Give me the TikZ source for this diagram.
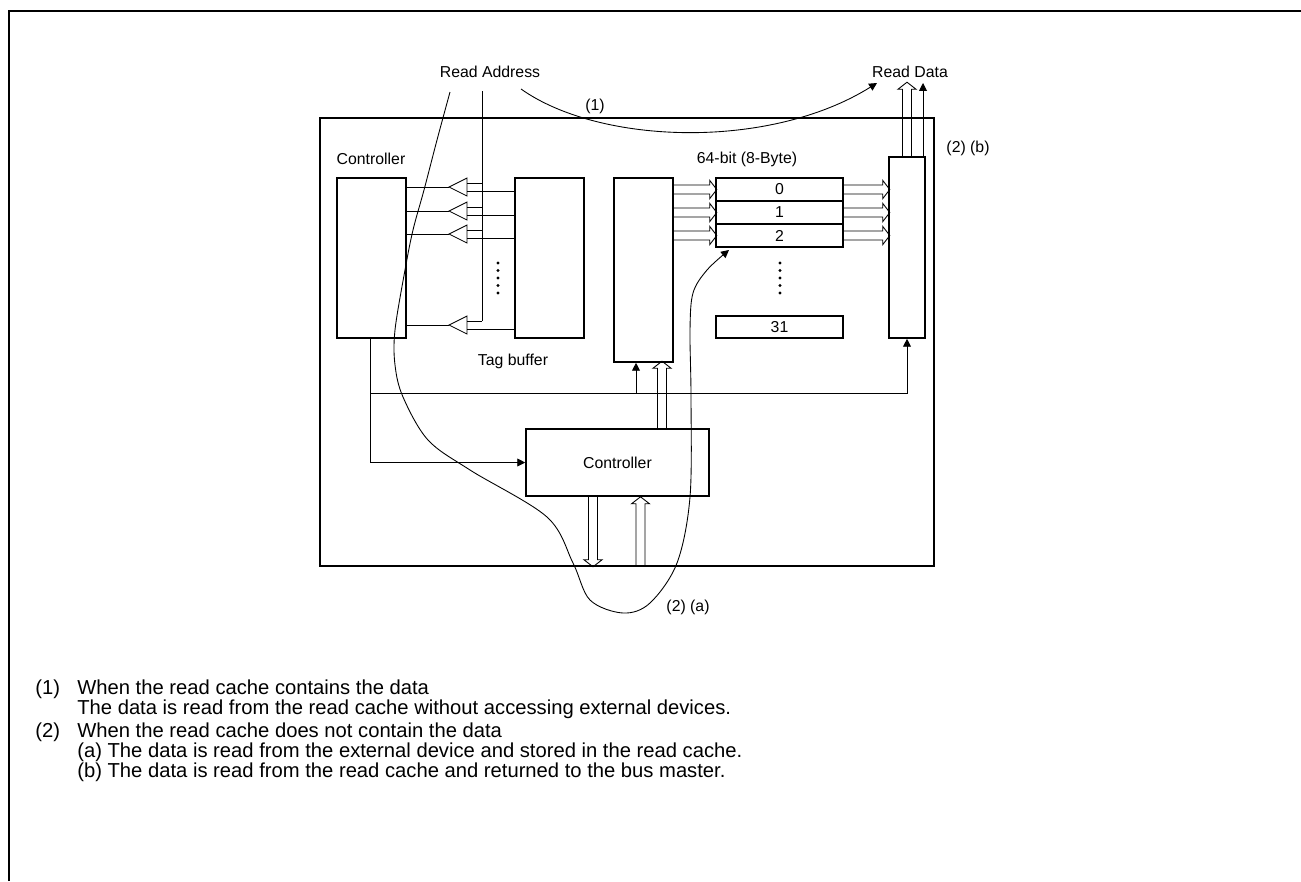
\documentclass[tikz,border=0pt]{standalone}
\usepackage{fontspec}
\setmainfont{Liberation Sans}
\usetikzlibrary{arrows.meta,calc}

\begin{document}
\begin{tikzpicture}[x=0.2mm, y=-0.2mm, font=\fontsize{9}{11}\selectfont,
  >={Triangle[length=4.5pt,width=4.5pt]},
  wire/.style={line width=0.5pt},
  blk/.style 2 args={draw, line width=0.9pt, inner sep=0pt, minimum width=#1, minimum height=#2},
  note/.style={font=\fontsize{11.5}{13}\selectfont, anchor=base west, inner sep=0pt},
  pics/fat/.style={code={\draw[wire] (0,-4.5) -- (#1-7,-4.5) -- (#1-7,-9) -- (#1,0) -- (#1-7,9) -- (#1-7,4.5) -- (0,4.5);}}]
  \useasboundingbox (0,0) rectangle (1301,881);
  \draw[line width=1.6pt] (9,881) -- (9,11) -- (1301,11);
  \node[blk={122.8mm}{89.6mm}] (cache) at (627,342) {};
  \node (ra) at (490,72) {Read Address};
  \node (rd) at (910,72) {Read Data};
  \node (lctl) at (371,159) {Controller};
  \node[blk={13.8mm}{32mm}] (ctl) at (371.5,258) {};
  \node[blk={13.8mm}{32mm}] (tag) at (549.5,258) {};
  \node (tagl) at (513,361) {Tag buffer};
  \node[blk={11.8mm}{36.8mm}] (mux) at (643.5,270) {};
  \node (wd) at (747,159) {64-bit (8-Byte)};
  \foreach \n/\y in {0/189.5,1/212.5,2/235.5}
    \node[blk={25.4mm}{4.6mm}] (row\n) at (779.5,\y) {\n};
  \node[blk={25.4mm}{4.4mm}] (row31) at (779.5,327) {31};
  \node[blk={7.2mm}{36.2mm}] (outb) at (907,247.5) {};
  \node[blk={36.6mm}{13.4mm}] (bctl) at (617.5,462.5) {Controller};
  \node (n1) at (595,106) {(1)};
  \node (n2b) at (968,148) {(2) (b)};
  \node (n2a) at (688,607) {(2) (a)};
  \foreach \y in {263,270.5,278,285.5,293} {
    \fill (498,\y) circle (0.9pt);
    \fill (780,\y) circle (0.9pt);
  }
  % tag compare buffers
  \coordinate (bus) at (482,91);
  \foreach \c in {187,211,234,325} {
    \draw[wire] (ctl.east |- 0,\c) -- (449,\c);
    \draw[wire] (449,\c) -- (467,\c-9) -- (467,\c+9) -- cycle;
    \draw[wire] (467,\c-4) -- (bus |- 0,\c-4);
    \draw[wire] (tag.west |- 0,\c+4) -- (467,\c+4);
  }
  \draw[wire] (bus) -- (bus |- 0,321);
  % data paths
  \foreach \r in {0,1,2} {
    \pic at (mux.east |- row\r) {fat=43};
    \pic at (row\r.east) {fat=46};
  }
  \pic[rotate=90] at (bctl.north -| 662,0) {fat=67};
  \pic[rotate=-90] at (bctl.south -| 593,0) {fat=70};
  \pic[rotate=90] at (cache.south -| 640.5,0) {fat=70};
  \pic[rotate=90] at (outb.north) {fat=74};
  \draw[wire,->] (outb.north -| 923,0) -- (923,83);
  % control lines
  \coordinate (br) at (370,393);
  \draw[wire,->] (ctl.south -| br) |- (bctl.west);
  \draw[wire,->] (br) -| (outb.south);
  \draw[wire,->] (br -| 636,0) -- (mux.south -| 636,0);
  % flows
  \coordinate (c1) at (521,89);
  \coordinate (c1e) at (877,83);
  \draw[wire,->] (c1) .. controls (600,145) and (770,150) .. (c1e);
  \draw[wire,->] plot[smooth, tension=0.55] coordinates {(450,92) (437,140) (424,190) (413,230) (405,270) (395,330) (395,365) (403,397) (428,440) (470,470) (547,517) (573,563) (590,600) (623,613) (650,603) (677,563) (690,497) (691,397) (690,330) (693,293) (707,270) (729,250)};
  % notes
  \node[note] (t1n) at (35,694) {(1)};
  \node[note] (t1) at (77,694) {When the read cache contains the data};
  \node[note] (t1b) at (77,714) {The data is read from the read cache without accessing external devices.};
  \node[note] (t2n) at (35,737) {(2)};
  \node[note] (t2) at (77,737) {When the read cache does not contain the data};
  \node[note] (t2a) at (77,757) {(a) The data is read from the external device and stored in the read cache.};
  \node[note] (t2b) at (77,777) {(b) The data is read from the read cache and returned to the bus master.};
\end{tikzpicture}
\end{document}
